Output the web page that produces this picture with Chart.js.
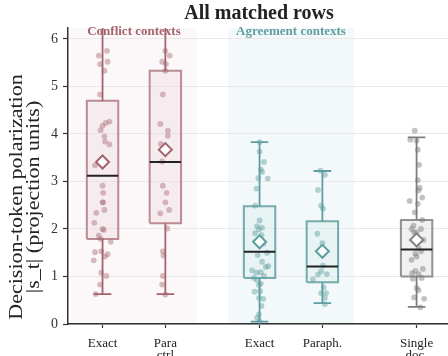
<!DOCTYPE html>
<html>
<head>
<meta charset="utf-8">
<script src="https://cdn.jsdelivr.net/npm/chart.js@4/dist/chart.umd.min.js"></script>
<style>
  html, body { margin: 0; padding: 0; background: #ffffff; }
  #wrap { width: 448px; height: 356px; }
</style>
</head>
<body>
<div id="wrap"><canvas id="c" width="448" height="356"></canvas></div>
<script>
// ---- data ---------------------------------------------------------------
const categories = ['Exact', ['Para', 'ctrl'], 'Exact', 'Paraph.', ['Single', 'doc.']];
const familyOf = [0, 0, 1, 1, 2];
const familyNames = ['Conflict contexts', 'Agreement contexts'];
const yTicks = [0, 1, 2, 3, 4, 5, 6];

// box statistics per category
const q1 = [1.79, 2.12, 0.97, 0.88, 1.00];
const median = [3.12, 3.41, 1.52, 1.21, 1.57];
const q3 = [4.70, 5.33, 2.48, 2.16, 2.19];
const mean = [3.41, 3.67, 1.73, 1.53, 1.77];
const whiskerLo = [0.63, 0.63, 0.05, 0.44, 0.36];
const whiskerHi = [6.6, 6.6, 3.83, 3.22, 3.93];

// per-row |s_t| values
const conflictExact = [5.75, 5.65, 5.52, 5.47, 5.33, 4.83, 4.26, 4.23, 4.17, 4.08, 3.95, 3.84, 3.78, 3.34,
  2.91, 2.76, 2.56, 2.56, 2.40, 2.34, 2.13, 2.00, 1.98, 1.86, 1.79, 1.73, 1.51, 1.53, 1.47, 1.42, 1.34,
  1.08, 1.01, 0.83, 0.63];
const conflictPara = [5.75, 5.65, 5.52, 5.47, 5.33, 4.83, 4.21, 4.07, 3.96, 3.79, 3.42, 2.91, 2.76, 2.56,
  2.40, 2.33, 2.01, 1.53, 1.44, 1.01, 0.83, 0.62];
const agreeExact = [3.83, 3.63, 3.41, 3.25, 3.20, 3.07, 3.06, 2.85, 2.49, 2.18, 2.06, 2.03, 1.99, 1.91,
  1.87, 1.69, 1.50, 1.45, 1.31, 1.22, 1.20, 1.13, 1.09, 1.08, 1.01, 0.97, 0.92, 0.85, 0.82, 0.69, 0.68,
  0.55, 0.53, 0.38, 0.20, 0.13, 0.06];
const agreeParaph = [3.23, 3.14, 2.82, 2.49, 2.43, 1.90, 1.70, 1.23, 1.11, 1.05, 1.04, 0.94, 0.77, 0.65,
  0.65, 0.55, 0.42];
const singleDoc = [4.07, 3.88, 3.86, 3.67, 3.35, 3.03, 2.87, 2.81, 2.66, 2.59, 2.53, 2.35, 2.19, 2.07,
  2.00, 2.00, 1.93, 1.93, 1.77, 1.60, 1.53, 1.48, 1.42, 1.35, 1.16, 1.12, 1.07, 1.05, 0.97, 0.95, 0.76,
  0.71, 0.56, 0.53, 0.35];
const seriesValues = [conflictExact, conflictPara, agreeExact, agreeParaph, singleDoc];

// horizontal strip jitter of each row (x units)
const jitterConflictExact = [0.07, -0.06, 0.08, -0.04, 0.03, -0.04, 0.11, 0.05, 0, -0.03, 0.03, 0.04, 0.11,
  -0.12, 0, 0.01, 0, 0.01, 0.03, -0.1, -0.13, 0, 0.02, -0.06, -0.03, 0.13, -0.12, -0.02, 0.08, 0.04, -0.14,
  -0.02, 0.06, -0.04, -0.11];
const jitterConflictPara = [0, 0.07, -0.05, 0.01, 0, -0.04, -0.08, 0.04, 0.04, -0.07, -0.05, -0.04, 0.02, 0,
  0.06, -0.08, 0.03, -0.04, -0.03, -0.04, -0.05, 0];
const jitterAgreeExact = [0, 0, 0.07, 0.02, 0.04, -0.02, 0.13, -0.05, -0.07, 0, -0.04, 0.04, -0.01, -0.07,
  0.03, 0.06, 0.12, -0.03, 0.04, 0.14, 0.10, -0.12, 0.02, -0.05, 0.07, -0.09, -0.04, 0.02, -0.01, 0.01,
  -0.08, -0.01, 0.06, 0.03, -0.01, -0.04, 0];
const jitterAgreeParaph = [-0.03, 0.04, -0.07, -0.02, 0.01, -0.08, 0, 0.01, -0.02, 0.07, -0.07, -0.15, 0.02,
  -0.02, 0.06, 0.04, 0.04];
const jitterSingleDoc = [-0.03, -0.10, 0, 0.02, 0.04, 0.02, 0.05, 0.03, 0.09, -0.11, 0.02, -0.03, 0.09, -0.05,
  -0.08, 0.07, -0.04, 0, 0.11, 0.03, 0.07, -0.02, 0, -0.08, 0.10, -0.02, -0.07, 0.03, 0.08, -0.06, 0, 0.03,
  -0.04, 0.12, 0.06];
const jitters = [jitterConflictExact, jitterConflictPara, jitterAgreeExact, jitterAgreeParaph, jitterSingleDoc];

// ---- layout & style -----------------------------------------------------
const slotX = [0, 1, 2.5, 3.5, 5];
const familySpans = [[-0.5, 1.5], [2, 4]];
const BOX_HALF = 0.25;
const CAP_HALF = 0.14;
const SERIF = "'Liberation Serif', 'Times New Roman', serif";

const palette = [
  { line: '#a3646e', edge: 'rgba(163,100,110,0.72)', fill: 'rgba(238,220,224,0.40)',
    dot: 'rgba(163,100,110,0.42)', shade: '#fcf7f8', text: '#a3646e' },
  { line: '#5f9ea0', edge: 'rgba(95,158,160,0.85)', fill: 'rgba(220,236,237,0.45)',
    dot: 'rgba(95,158,160,0.45)', shade: '#f3f9fa', text: '#5f9ea0' },
  { line: '#7f7f7f', edge: 'rgba(120,120,120,0.80)', fill: 'rgba(225,225,225,0.45)',
    dot: 'rgba(120,120,120,0.45)', shade: null, text: '#7f7f7f' }
];

// ---- datasets -----------------------------------------------------------
const datasets = [];
categories.forEach((cat, i) => {
  const s = slotX[i];
  const c = palette[familyOf[i]];
  datasets.push({
    type: 'line', order: 50,
    data: [
      { x: s - BOX_HALF, y: q1[i] }, { x: s + BOX_HALF, y: q1[i] },
      { x: s + BOX_HALF, y: q3[i] }, { x: s - BOX_HALF, y: q3[i] },
      { x: s - BOX_HALF, y: q1[i] }
    ],
    borderColor: c.edge, borderWidth: 2, backgroundColor: c.fill,
    fill: 'shape', pointRadius: 0, tension: 0
  });
  datasets.push({
    type: 'line', order: 40,
    data: [
      { x: s, y: q3[i] }, { x: s, y: whiskerHi[i] }, { x: s, y: null },
      { x: s - CAP_HALF, y: whiskerHi[i] }, { x: s + CAP_HALF, y: whiskerHi[i] }, { x: s, y: null },
      { x: s, y: q1[i] }, { x: s, y: whiskerLo[i] }, { x: s, y: null },
      { x: s - CAP_HALF, y: whiskerLo[i] }, { x: s + CAP_HALF, y: whiskerLo[i] }
    ],
    borderColor: c.line, borderWidth: 1.8, fill: false, pointRadius: 0, tension: 0, spanGaps: false
  });
  datasets.push({
    type: 'scatter', order: 30,
    data: seriesValues[i].map((v, k) => ({ x: s + jitters[i][k], y: v })),
    backgroundColor: c.dot, borderWidth: 0, pointRadius: 2.9
  });
  datasets.push({
    type: 'line', order: 20,
    data: [{ x: s - BOX_HALF, y: median[i] }, { x: s + BOX_HALF, y: median[i] }],
    borderColor: '#222222', borderWidth: 2, pointRadius: 0, fill: false
  });
  datasets.push({
    type: 'scatter', order: 10,
    data: [{ x: s, y: mean[i] }],
    pointStyle: 'rectRot', pointRadius: 6.5, backgroundColor: '#ffffff',
    borderColor: c.line, borderWidth: 2
  });
});

// ---- decorations: family bands, headings, title, axis title --------------
const decor = {
  id: 'decor',
  beforeDraw(chart) {
    const { ctx, chartArea, scales } = chart;
    ctx.save();
    familySpans.forEach((span, f) => {
      const x0 = scales.x.getPixelForValue(span[0]);
      const x1 = scales.x.getPixelForValue(span[1]);
      ctx.fillStyle = palette[f].shade;
      ctx.fillRect(x0, chartArea.top, x1 - x0, chartArea.bottom - chartArea.top);
    });
    ctx.restore();
  },
  beforeDatasetsDraw(chart) {
    const { ctx, chartArea, scales } = chart;
    ctx.save();
    ctx.font = 'bold 13px ' + SERIF;
    ctx.textAlign = 'center';
    ctx.textBaseline = 'middle';
    familySpans.forEach((span, f) => {
      const xc = scales.x.getPixelForValue((span[0] + span[1]) / 2);
      ctx.fillStyle = palette[f].text;
      ctx.fillText(familyNames[f], xc, chartArea.top + 4);
    });
    ctx.restore();
  },
  afterDraw(chart) {
    const { ctx, chartArea } = chart;
    ctx.save();
    ctx.fillStyle = '#222222';
    ctx.font = 'bold 20px ' + SERIF;
    ctx.textAlign = 'center';
    ctx.textBaseline = 'middle';
    ctx.fillText('All matched rows', (chartArea.left + chartArea.right) / 2 + 1, 14);

    ctx.font = '21px ' + SERIF;
    const lines = ['Decision-token polarization', '|s_t| (projection units)'];
    const cy = 197;
    [17, 34].forEach((cx, k) => {
      ctx.save();
      ctx.translate(cx, cy);
      ctx.rotate(-Math.PI / 2);
      ctx.scale(1.05, 0.88);
      ctx.fillText(lines[k], 0, 0);
      ctx.restore();
    });
    ctx.restore();
  }
};

new Chart(document.getElementById('c'), {
  type: 'line',
  data: { datasets },
  plugins: [decor],
  options: {
    responsive: false,
    animation: false,
    events: [],
    layout: { autoPadding: false, padding: { top: 28, right: 0, bottom: 0, left: 0 } },
    plugins: { legend: { display: false }, tooltip: { enabled: false }, title: { display: false } },
    scales: {
      x: {
        type: 'linear', min: -0.55, max: 5.5,
        afterBuildTicks(scale) { scale.ticks = slotX.map(v => ({ value: v })); },
        afterFit(scale) { scale.height = 32; scale.paddingLeft = 0; scale.paddingRight = 0; },
        ticks: {
          autoSkip: false, maxRotation: 0, padding: 9, color: '#222222',
          font: { family: SERIF, size: 13, lineHeight: 0.95 },
          callback(value) { const k = slotX.indexOf(value); return k >= 0 ? categories[k] : ''; }
        },
        grid: { drawOnChartArea: false, drawTicks: true, tickLength: 4, tickColor: '#333333', tickWidth: 1.2 },
        border: { display: true, color: '#333333', width: 1.5 }
      },
      y: {
        type: 'linear', min: 0, max: 6.23,
        afterBuildTicks(scale) { scale.ticks = yTicks.map(v => ({ value: v })); },
        afterFit(scale) { scale.width = 68; },
        ticks: { padding: 5, color: '#333333', font: { family: SERIF, size: 14 } },
        grid: { color: '#e8e8e8', lineWidth: 1, drawTicks: true, tickLength: 5, tickColor: '#333333', tickWidth: 1.2 },
        border: { display: true, color: '#333333', width: 1.5 }
      }
    }
  }
});
</script>
</body>
</html>
